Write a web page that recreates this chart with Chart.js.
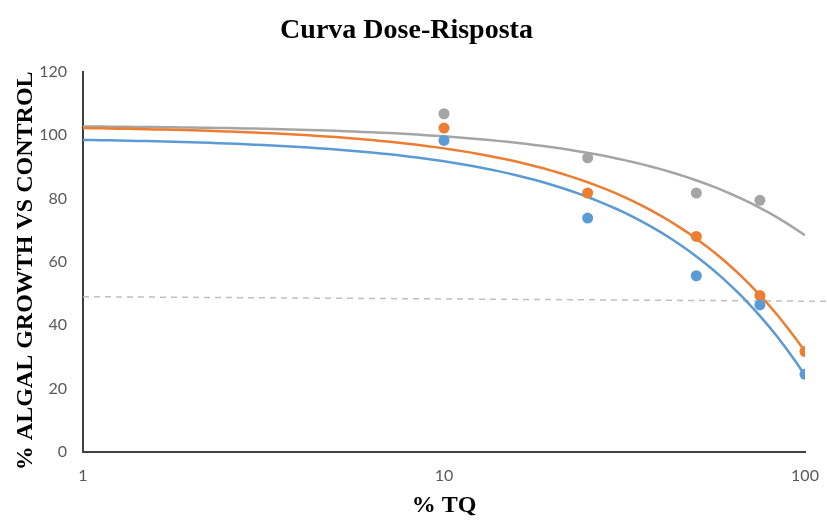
<!DOCTYPE html>
<html>
<head>
<meta charset="utf-8">
<title>Curva Dose-Risposta</title>
<script src="https://cdn.jsdelivr.net/npm/chart.js@4.4.1/dist/chart.umd.min.js"></script>
<style>
  html, body { margin: 0; padding: 0; background: #ffffff; }
  #wrap { width: 827px; height: 521px; }
</style>
</head>
<body>
<div id="wrap"><canvas id="chart" width="827" height="521"></canvas></div>
<script>
// Dose (% TQ) and measured growth (% of control) for the three series
const doses = [10, 25, 50, 75, 100];
const growthBlue = [98.3, 73.8, 55.6, 46.4, 24.5];
const growthOrange = [102.2, 81.7, 68.0, 49.4, 31.7];
const growthGray = [106.7, 92.8, 81.7, 79.4, null];

// Linear trend lines y = a + b·x (blue, orange, gray)
const trendIntercept = [99.2, 102.9, 103.05];
const trendSlope = [-0.75, -0.712, -0.347];

// 50 % reference line (dashed)
const refX = [1, 130];
const refY = [49.0, 47.5];

const xTicks = [1, 10, 100];
const yTicks = [0, 20, 40, 60, 80, 100, 120];

const COLORS = ['#5B9BD5', '#ED7D31', '#A5A5A5'];
const SERIES = [growthBlue, growthOrange, growthGray];

function pointsOf(values) {
  return doses.map((d, i) => ({ x: d, y: values[i] })).filter(p => p.y !== null);
}

// Sample each fitted line along the log axis so it renders as a smooth curve
function trendPoints(k) {
  const out = [];
  const n = 80;
  for (let i = 0; i <= n; i++) {
    const x = Math.pow(10, 2 * i / n);
    out.push({ x: x, y: trendIntercept[k] + trendSlope[k] * x });
  }
  return out;
}

const datasets = [];
// markers first so they sit on top of the lines
SERIES.forEach((vals, k) => {
  datasets.push({
    type: 'scatter',
    data: pointsOf(vals),
    backgroundColor: COLORS[k],
    borderColor: COLORS[k],
    pointRadius: 5.5,
    pointBorderWidth: 0,
    order: 0
  });
});
SERIES.forEach((vals, k) => {
  datasets.push({
    type: 'line',
    data: trendPoints(k),
    borderColor: COLORS[k],
    borderWidth: 2.5,
    pointRadius: 0,
    fill: false,
    tension: 0,
    order: 1
  });
});
datasets.push({
  type: 'line',
  data: refX.map((x, i) => ({ x: x, y: refY[i] })),
  borderColor: '#BFBFBF',
  borderWidth: 1.5,
  borderDash: [6, 5],
  pointRadius: 0,
  fill: false,
  clip: false,
  order: 2
});

const serif = "'Liberation Serif', 'Times New Roman', serif";
const sans = "Lato, 'Liberation Sans', sans-serif";

new Chart(document.getElementById('chart'), {
  type: 'scatter',
  data: { datasets: datasets },
  options: {
    responsive: false,
    animation: false,
    devicePixelRatio: 1,
    layout: { padding: { left: 8, right: 22, top: 0, bottom: 0 } },
    plugins: {
      legend: { display: false },
      tooltip: { enabled: false },
      title: {
        display: true,
        text: 'Curva Dose-Risposta',
        color: '#000000',
        font: { family: serif, size: 28, weight: 'bold', lineHeight: 1.2 },
        padding: { top: 14, bottom: 24 }
      }
    },
    scales: {
      x: {
        type: 'logarithmic',
        min: 1,
        max: 100,
        grid: { display: false, drawTicks: false },
        border: { display: true, color: '#404040', width: 2 },
        afterBuildTicks: (scale) => { scale.ticks = xTicks.map(v => ({ value: v })); },
        afterFit: (scale) => {
          scale.height = 69;
          scale.paddingLeft = 0;
          scale.paddingRight = 0;
        },
        ticks: {
          color: '#595959',
          font: { family: sans, size: 16 },
          padding: 14,
          maxRotation: 0,
          autoSkip: false,
          callback: (v) => String(v)
        },
        title: {
          display: true,
          text: '% TQ',
          color: '#000000',
          font: { family: serif, size: 24, weight: 'bold', lineHeight: 1.2 },
          padding: { top: 0, bottom: 1 }
        }
      },
      y: {
        min: 0,
        max: 120,
        grid: { display: false, drawTicks: false },
        border: { display: true, color: '#404040', width: 2 },
        afterBuildTicks: (scale) => { scale.ticks = yTicks.map(v => ({ value: v })); },
        afterFit: (scale) => { scale.width = 75; },
        ticks: {
          color: '#595959',
          font: { family: sans, size: 16 },
          padding: 16
        },
        title: {
          display: true,
          text: '% ALGAL GROWTH VS CONTROL   ',
          color: '#000000',
          font: { family: serif, size: 24, weight: 'bold', lineHeight: 1.2 },
          padding: { top: 3, bottom: 0 }
        }
      }
    }
  }
});
</script>
</body>
</html>
